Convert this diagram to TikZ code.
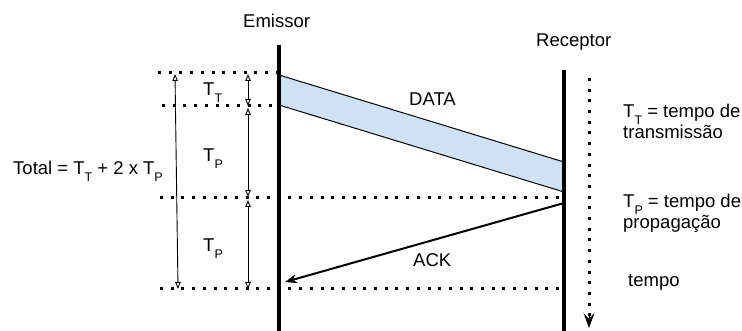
\documentclass[tikz,border=0pt]{standalone}
\usepackage{fontspec}
\setmainfont{Liberation Sans}
\usetikzlibrary{arrows.meta}
\newcommand{\lowidx}[1]{\raisebox{-0.37em}{\fontsize{12.5}{13}\selectfont #1}}
\tikzset{
  lbl/.style={anchor=base west,inner sep=0pt,font=\fontsize{18.5}{22}\selectfont},
  dotline/.style={line width=3pt,dash pattern=on 3pt off 7.7pt},
  wire/.style={line width=4pt},
  meas/.style={line width=0.9pt,{Triangle[open,length=7pt,width=5.5pt]}-{Triangle[open,length=7pt,width=5.5pt]}}
}
\begin{document}
\begin{tikzpicture}[x=1pt,y=-1pt]
  \useasboundingbox (0,0) rectangle (742,331);
  % ends of the two lines
  \coordinate (emTop) at (279,45);
  \coordinate (emBot) at (279,331);
  \coordinate (reTop) at (564,70);
  \coordinate (reBot) at (564,331);
  % the frame of data
  \fill[fill={rgb,255:red,207;green,226;blue,243}] (279,75) -- (564,162) -- (564,192) -- (279,105) -- cycle;
  \draw[line width=1pt] (279,75) -- (564,162);
  \draw[line width=1pt] (279,105) -- (564,192);
  % dotted time marks
  \draw[dotline] (158,73) -- (277,73);
  \draw[dotline] (162,106) -- (277,106);
  \draw[dotline] (160,198) -- (562,198);
  \draw[dotline] (160,289) -- (562,289);
  \draw[wire] (emTop) -- (emBot);
  \draw[wire] (reTop) -- (reBot);
  \node[lbl] (emissor) at (243,27.3) {Emissor};
  \node[lbl] (receptor) at (536,46.7) {Receptor};
  \node[lbl] (data) at (409,106) {DATA};
  % ack goes back
  \coordinate (ackStart) at (564,203);
  \coordinate (ackEnd) at (285,282);
  \draw[line width=2pt,-{Stealth[length=12pt,width=9pt]}] (ackStart) -- (ackEnd);
  \node[lbl] (ack) at (413,267) {ACK};
  % dimensions
  \coordinate (mA) at (248,74);
  \coordinate (mB) at (248,106);
  \coordinate (mC) at (248,108);
  \coordinate (mD) at (248,197);
  \coordinate (mE) at (248,200);
  \coordinate (mF) at (248,289);
  \draw[meas] (mA) -- (mB);
  \draw[meas] (mC) -- (mD);
  \draw[meas] (mE) -- (mF);
  \coordinate (totTop) at (175,74);
  \coordinate (totBot) at (178,289);
  \draw[meas] (totTop) -- (totBot);
  \node[lbl] (tt) at (203,95.5) {T\lowidx{T}};
  \node[lbl] (tp1) at (203,162) {T\lowidx{P}};
  \node[lbl] (tp2) at (203,252) {T\lowidx{P}};
  \node[lbl] (total) at (13,175) {Total = T\lowidx{T} + 2 x T\lowidx{P}};
  % time axis
  \coordinate (timeTop) at (589,78);
  \coordinate (timeBot) at (589,316);
  \coordinate (timeTip) at (589,328);
  \draw[dotline] (timeTop) -- (timeBot);
  \draw[line width=1pt,-{Stealth[length=15pt,width=11pt,inset=6pt]}] (timeBot) -- (timeTip);
  % legend
  \node[lbl] (legT1) at (623,118) {T\lowidx{T} = tempo de};
  \node[lbl] (legT2) at (623,139) {transmissão};
  \node[lbl] (legP1) at (623,207.7) {T\lowidx{P} = tempo de};
  \node[lbl] (legP2) at (623,228.5) {propagação};
  \node[lbl] (tempo) at (628,287) {tempo};
\end{tikzpicture}
\end{document}
